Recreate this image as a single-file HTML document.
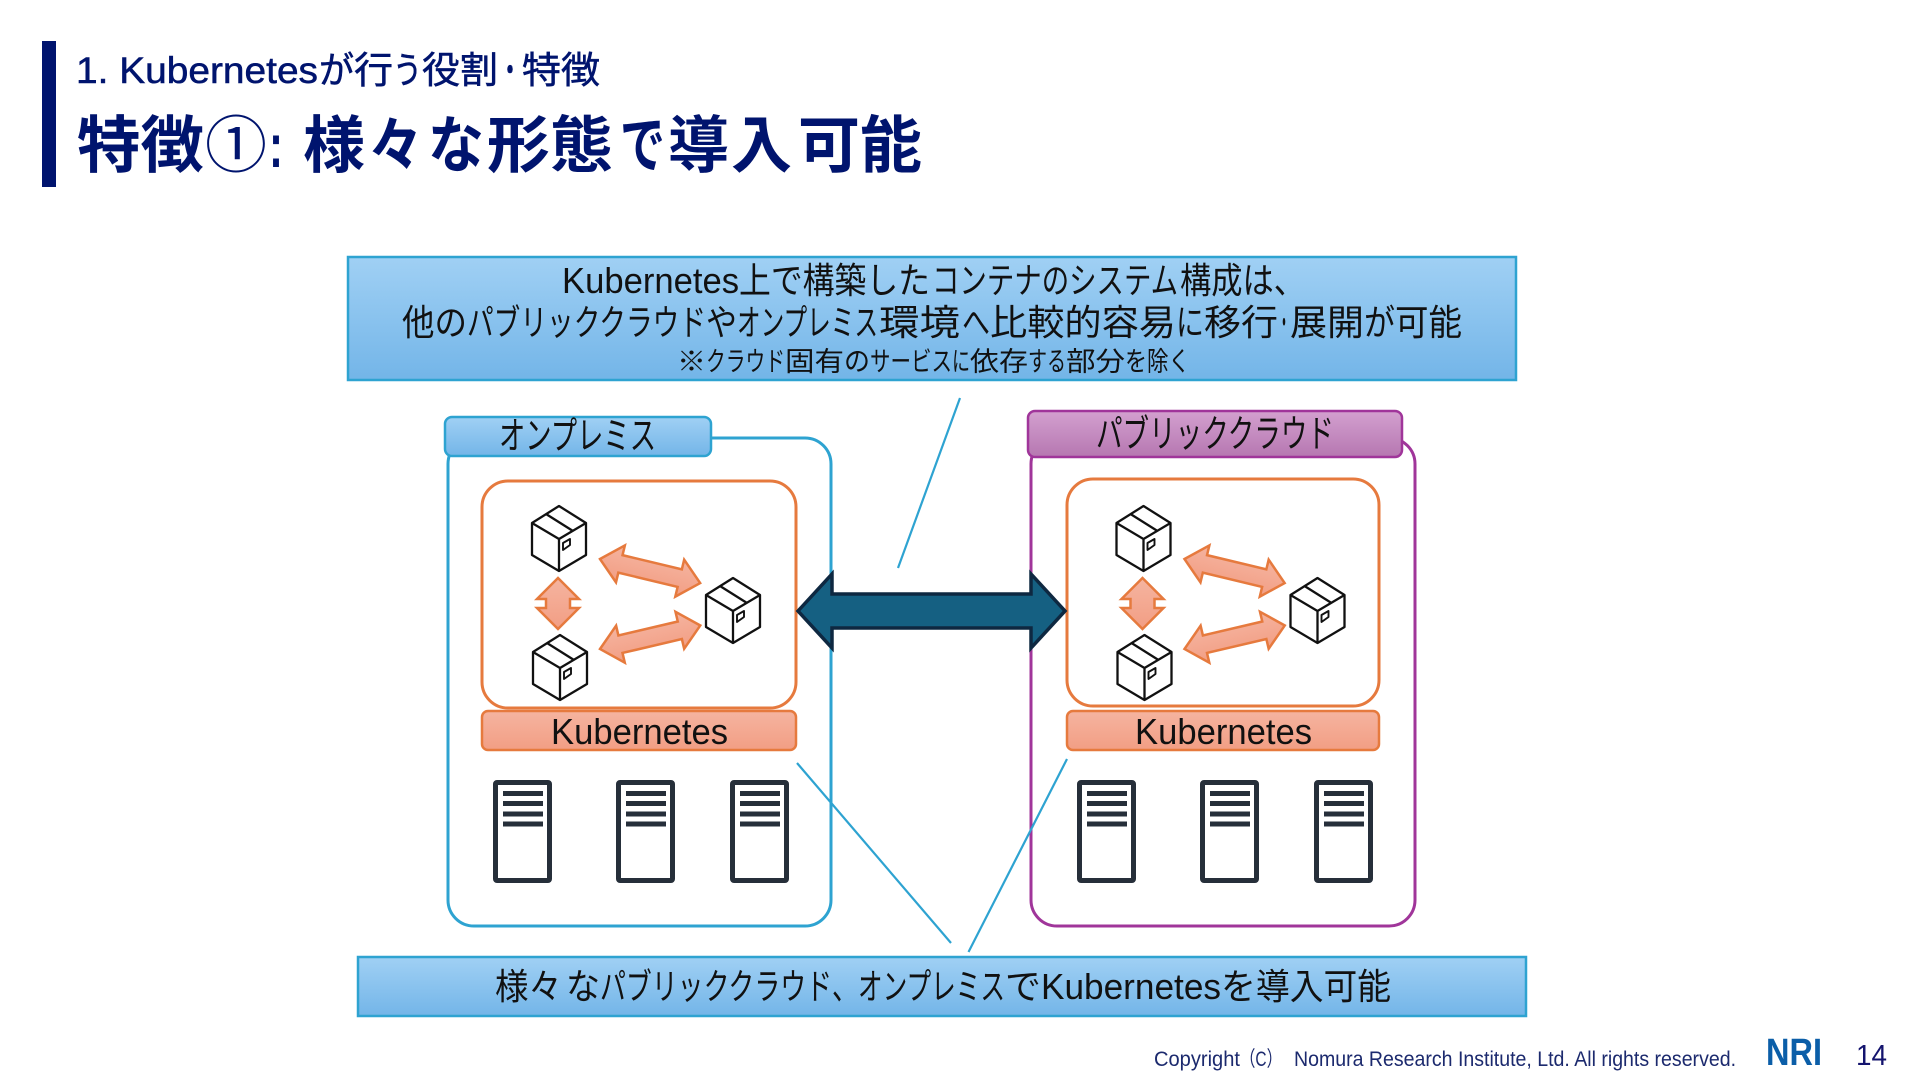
<!DOCTYPE html>
<html lang="ja"><head><meta charset="utf-8"><title>特徴①</title>
<style>html,body{margin:0;padding:0;background:#fff}svg{display:block}text{font-family:"Liberation Sans","Noto Sans CJK JP",sans-serif;fill:#111}
.s text{fill:#00146e;stroke:#00146e;stroke-width:.55;font-size:37px}
.m text{fill:#00146e;font-size:62px;font-weight:700}
.l1 text{font-size:36px}.l3 text{font-size:27px}.lb text{font-size:36px}.f text{font-size:21px;fill:#1c2a6e}</style></head>
<body>
<svg xmlns="http://www.w3.org/2000/svg" width="1920" height="1080" viewBox="0 0 1920 1080" lengthAdjust="spacingAndGlyphs">
<defs>
<linearGradient id="b" x1="0" y1="0" x2="0" y2="1"><stop offset="0" stop-color="#a0d0f4"/><stop offset="1" stop-color="#73b5e8"/></linearGradient>
<linearGradient id="p" x1="0" y1="0" x2="0" y2="1"><stop offset="0" stop-color="#d3a0cf"/><stop offset="1" stop-color="#b677b1"/></linearGradient>
<linearGradient id="o" x1="0" y1="0" x2="0" y2="1"><stop offset="0" stop-color="#f5b4a0"/><stop offset="1" stop-color="#f29e84"/></linearGradient>
<g id="cube" fill="none" stroke="#111" stroke-width="2.3" stroke-linejoin="round">
<path d="M27 0L54 17V49L27 65L0 49V17Z" fill="#fff"/><path d="M0 17L27 33L54 17M27 33V65M14 8L41 25"/><path d="M31 37L38 33V39L31 44Z" stroke-width="1.9"/>
</g>
<g id="srv"><rect x="2.5" y="2.5" width="54" height="98" rx="1.5" fill="#fff" stroke="#262f3a" stroke-width="5"/>
<path d="M10 11h40v5H10zM10 21h40v5H10zM10 31.500h40v5H10zM10 41.500h40v5H10z" fill="#262f3a"/></g>
<path id="da" d="M0 0L21 -19L21 -9L82 -9L82 -19L103 0L82 19L82 9L21 9L21 19Z" fill="url(#o)" stroke="#e67a3e" stroke-width="2.5" stroke-linejoin="miter"/>
<path id="va" d="M21 0L42 21H33V30H42L21 51L0 30H9V21H0Z" fill="url(#o)" stroke="#e67a3e" stroke-width="2.5"/>
<g id="pods">
<use href="#cube" x="532" y="506"/><use href="#cube" x="533" y="635"/><use href="#cube" x="706" y="578"/>
<use href="#va" x="537" y="578"/>
<use href="#da" transform="translate(600 559) rotate(13.500)"/>
<use href="#da" transform="translate(600 649) rotate(-13.200)"/>
</g>
</defs>
<rect width="1920" height="1080" fill="#fff"/>
<rect x="42" y="41" width="14" height="146" fill="#00146e"/>
<g class="s">
<text x="76" y="83" textLength="242" lengthAdjust="spacingAndGlyphs">1. Kubernetes</text>
<text x="319" y="83" textLength="35" lengthAdjust="spacingAndGlyphs">が</text>
<text x="354" y="83" textLength="39" lengthAdjust="spacingAndGlyphs">行</text>
<text x="393" y="83" textLength="29" lengthAdjust="spacingAndGlyphs">う</text>
<text x="422" y="83" textLength="76" lengthAdjust="spacingAndGlyphs">役割</text>
<text x="498" y="83" textLength="24" lengthAdjust="spacingAndGlyphs">・</text>
<text x="522" y="83" textLength="78" lengthAdjust="spacingAndGlyphs">特徴</text>
</g>
<g class="m">
<text x="77" y="167" textLength="127" lengthAdjust="spacingAndGlyphs">特徴</text>
<text x="205" y="167" textLength="62" lengthAdjust="spacingAndGlyphs" style="font-weight:400">①</text>
<text x="269" y="167" textLength="14" lengthAdjust="spacingAndGlyphs">:</text>
<text x="303" y="167" textLength="62" lengthAdjust="spacingAndGlyphs">様</text>
<text x="368" y="167" textLength="55" lengthAdjust="spacingAndGlyphs">々</text>
<text x="428" y="167" textLength="56" lengthAdjust="spacingAndGlyphs">な</text>
<text x="487" y="167" textLength="126" lengthAdjust="spacingAndGlyphs">形態</text>
<text x="620" y="167" textLength="45" lengthAdjust="spacingAndGlyphs">で</text>
<text x="668" y="167" textLength="61" lengthAdjust="spacingAndGlyphs">導</text>
<text x="731" y="167" textLength="61" lengthAdjust="spacingAndGlyphs">入</text>
<text x="798" y="167" textLength="62" lengthAdjust="spacingAndGlyphs">可</text>
<text x="860" y="167" textLength="62" lengthAdjust="spacingAndGlyphs">能</text>
</g>

<rect x="348" y="257" width="1168" height="123" fill="url(#b)" stroke="#2ea3d1" stroke-width="2.500"/>
<g class="l1">
<text x="562" y="293" textLength="177" lengthAdjust="spacingAndGlyphs">Kubernetes</text>
<text x="739" y="293" textLength="191" lengthAdjust="spacingAndGlyphs">上で構築した</text>
<text x="932" y="293" textLength="246" lengthAdjust="spacingAndGlyphs">コンテナのシステム</text>
<text x="1180" y="293" textLength="125" lengthAdjust="spacingAndGlyphs">構成は、</text>
<text x="402" y="335" textLength="65" lengthAdjust="spacingAndGlyphs">他の</text>
<text x="467" y="335" textLength="239" lengthAdjust="spacingAndGlyphs">パブリッククラウド</text>
<text x="706" y="335" textLength="31" lengthAdjust="spacingAndGlyphs">や</text>
<text x="737" y="335" textLength="141" lengthAdjust="spacingAndGlyphs">オンプレミス</text>
<text x="879" y="335" textLength="81" lengthAdjust="spacingAndGlyphs">環境</text>
<text x="962" y="335" textLength="28" lengthAdjust="spacingAndGlyphs">へ</text>
<text x="990" y="335" textLength="186" lengthAdjust="spacingAndGlyphs">比較的容易</text>
<text x="1176" y="335" textLength="28" lengthAdjust="spacingAndGlyphs">に</text>
<text x="1204" y="335" textLength="74" lengthAdjust="spacingAndGlyphs">移行</text>
<text x="1278" y="335" textLength="12" lengthAdjust="spacingAndGlyphs">・</text>
<text x="1290" y="335" textLength="74" lengthAdjust="spacingAndGlyphs">展開</text>
<text x="1364" y="335" textLength="31" lengthAdjust="spacingAndGlyphs">が</text>
<text x="1395" y="335" textLength="67" lengthAdjust="spacingAndGlyphs">可能</text>
</g>
<g class="l3">
<text x="677" y="371" textLength="29" lengthAdjust="spacingAndGlyphs">※</text>
<text x="706" y="371" textLength="79" lengthAdjust="spacingAndGlyphs">クラウド</text>
<text x="785" y="371" textLength="59" lengthAdjust="spacingAndGlyphs">固有</text>
<text x="844" y="371" textLength="26" lengthAdjust="spacingAndGlyphs">の</text>
<text x="870" y="371" textLength="82" lengthAdjust="spacingAndGlyphs">サービス</text>
<text x="952" y="371" textLength="18" lengthAdjust="spacingAndGlyphs">に</text>
<text x="970" y="371" textLength="58" lengthAdjust="spacingAndGlyphs">依存</text>
<text x="1028" y="371" textLength="38" lengthAdjust="spacingAndGlyphs">する</text>
<text x="1066" y="371" textLength="59" lengthAdjust="spacingAndGlyphs">部分</text>
<text x="1125" y="371" textLength="22" lengthAdjust="spacingAndGlyphs">を</text>
<text x="1147" y="371" textLength="43" lengthAdjust="spacingAndGlyphs">除く</text>
</g>

<rect x="448" y="438" width="383" height="488" rx="26" fill="#fff" stroke="#2ea3d1" stroke-width="3"/>
<rect x="445" y="417" width="266" height="39" rx="7" fill="url(#b)" stroke="#2ea3d1" stroke-width="2.500"/>
<text x="499" y="449" font-size="38" textLength="157" lengthAdjust="spacingAndGlyphs">オンプレミス</text>
<rect x="482" y="481" width="314" height="227" rx="26" fill="#fff" stroke="#e67a3e" stroke-width="3"/>
<rect x="482" y="711" width="314" height="39" rx="6" fill="url(#o)" stroke="#e67a3e" stroke-width="2.500"/>
<text x="551" y="744" font-size="36" textLength="177" lengthAdjust="spacingAndGlyphs">Kubernetes</text>
<use href="#pods"/>
<use href="#srv" x="493" y="780"/><use href="#srv" x="616" y="780"/><use href="#srv" x="730" y="780"/>

<rect x="1031" y="438" width="384" height="488" rx="26" fill="#fff" stroke="#a0359a" stroke-width="3"/>
<rect x="1028" y="411" width="374" height="46" rx="7" fill="url(#p)" stroke="#a0359a" stroke-width="2.500"/>
<text x="1096" y="447" font-size="38" textLength="238" lengthAdjust="spacingAndGlyphs">パブリッククラウド</text>
<rect x="1067" y="479" width="312" height="227" rx="26" fill="#fff" stroke="#e67a3e" stroke-width="3"/>
<rect x="1067" y="711" width="312" height="39" rx="6" fill="url(#o)" stroke="#e67a3e" stroke-width="2.500"/>
<text x="1135" y="744" font-size="36" textLength="177" lengthAdjust="spacingAndGlyphs">Kubernetes</text>
<use href="#pods" x="584.500"/>
<use href="#srv" x="1077" y="780"/><use href="#srv" x="1200" y="780"/><use href="#srv" x="1314" y="780"/>

<path d="M798 611L832 574V594H1031V574L1065 611L1031 648V628H832V648Z" fill="#156082" stroke="#0e2841" stroke-width="3.500"/>

<path d="M960 398L898 568M797 763L951 943M1067 759L968.500 952" fill="none" stroke="#2ea3d1" stroke-width="2.200"/>

<rect x="358" y="957" width="1168" height="59" fill="url(#b)" stroke="#2ea3d1" stroke-width="2.500"/>
<g class="lb">
<text x="495" y="999" textLength="67" lengthAdjust="spacingAndGlyphs">様々</text>
<text x="566" y="999" textLength="34" lengthAdjust="spacingAndGlyphs">な</text>
<text x="600" y="999" textLength="232" lengthAdjust="spacingAndGlyphs">パブリッククラウド</text>
<text x="832" y="999" textLength="26" lengthAdjust="spacingAndGlyphs">、</text>
<text x="858" y="999" textLength="147" lengthAdjust="spacingAndGlyphs">オンプレミス</text>
<text x="1005" y="999" textLength="36" lengthAdjust="spacingAndGlyphs">で</text>
<text x="1041" y="999" textLength="180" lengthAdjust="spacingAndGlyphs">Kubernetes</text>
<text x="1221" y="999" textLength="35" lengthAdjust="spacingAndGlyphs">を</text>
<text x="1256" y="999" textLength="135" lengthAdjust="spacingAndGlyphs">導入可能</text>
</g>

<g class="f">
<text x="1154" y="1066" textLength="86" lengthAdjust="spacingAndGlyphs">Copyright</text>
<text x="1240" y="1066" textLength="42" lengthAdjust="spacingAndGlyphs">（C）</text>
<text x="1294" y="1066" textLength="442" lengthAdjust="spacingAndGlyphs">Nomura Research Institute, Ltd. All rights reserved.</text>
</g>
<text x="1766" y="1065" font-size="38" font-weight="700" style="fill:#0b5ea8" textLength="56" lengthAdjust="spacingAndGlyphs">NRI</text>
<text x="1856" y="1065" font-size="29" style="fill:#14146e" textLength="31" lengthAdjust="spacingAndGlyphs">14</text>
</svg>
</body></html>
